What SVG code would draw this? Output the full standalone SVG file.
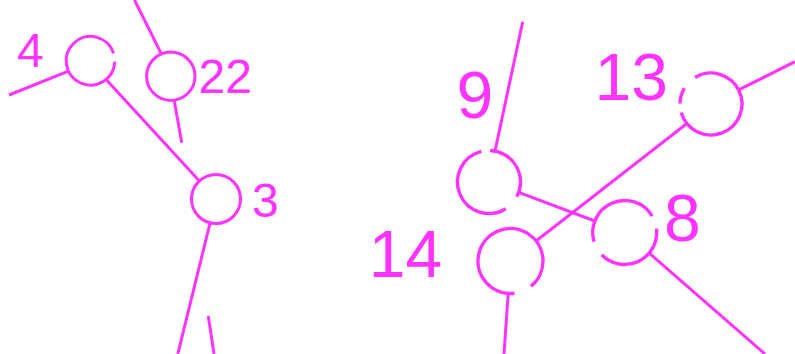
<svg xmlns="http://www.w3.org/2000/svg" width="795" height="354" viewBox="0 0 795 354">
<style>
.c{fill:none;stroke:#ff33ff;stroke-width:3;stroke-linecap:butt}
.b{stroke-width:3.4}
.e{stroke:#ff33ff;stroke-width:3;fill:none}
.t{font-family:"Liberation Sans",Arial,sans-serif;fill:#ff33ff}
.s{font-size:48px}
.l{font-size:66px}
</style>
<rect width="795" height="354" fill="#fff"/>
<g id="connectors">
<line class="e" x1="9" y1="95" x2="68.5" y2="71.1"/>
<line class="e" x1="106.1" y1="79.4" x2="199.4" y2="181"/>
<line class="e" x1="134.5" y1="0" x2="161.35" y2="53.9"/>
<line class="e" x1="174.2" y1="100.2" x2="181.7" y2="142.7"/>
<line class="e" x1="210.1" y1="222.8" x2="177.8" y2="354"/>
<line class="e" x1="208.3" y1="316" x2="214" y2="354"/>
<line class="e" x1="522.7" y1="21.7" x2="495" y2="151.1"/>
<line class="e" x1="518.8" y1="192.3" x2="594.8" y2="221"/>
<line class="e" x1="536.1" y1="241" x2="686.9" y2="123.5"/>
<line class="e" x1="738.6" y1="89.9" x2="795" y2="61.7"/>
<line class="e" x1="649.2" y1="253.1" x2="765" y2="354"/>
<line class="e" x1="508.2" y1="293.4" x2="504" y2="354"/>
</g>
<g id="node4">
<path class="c" d="M114.78,61.65 A24.3,24.3 0 1 1 113.61,53.29"/>
<text class="t s" x="17" y="67">4</text>
</g>
<g id="node22">
<circle class="c" cx="170.8" cy="76.2" r="24.2"/>
<text class="t s" x="198.6" y="93">22</text>
</g>
<g id="node3">
<circle class="c" cx="216" cy="199" r="24.5"/>
<text class="t s" x="252" y="217">3</text>
</g>
<g id="node9">
<path class="c b" d="M490.1,150.52 A31.5,31.5 0 0 1 516.81,196.79"/>
<path class="c b" d="M505.69,208.71 A31.5,31.5 0 1 1 481.38,151.44"/>
<text class="t l" x="456.5" y="117.5">9</text>
</g>
<g id="node13">
<path class="c b" d="M695.03,77.43 A31,31 0 1 1 681.2,112.54"/>
<path class="c b" d="M680,103.46 A31,31 0 0 1 684.43,88.04"/>
<text class="t l" x="594.5" y="100">13</text>
</g>
<g id="node8">
<path class="c b" d="M656.46,228.6 A32,32 0 0 1 601.68,254.73"/>
<path class="c b" d="M594.1,241.86 A32,32 0 0 1 652.13,216.02"/>
<text class="t l" x="664" y="241">8</text>
</g>
<g id="node14">
<path class="c b" d="M514.46,293.26 A32.5,32.5 0 1 1 530.95,286.26"/>
<text class="t l" x="368.8" y="276.7">14</text>
</g>
</svg>
